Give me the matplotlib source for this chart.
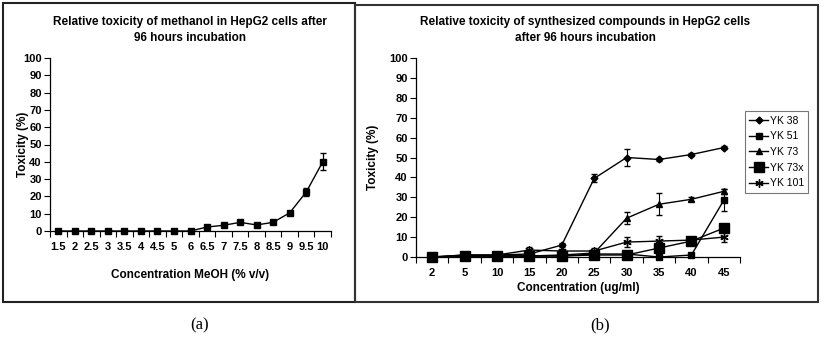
import matplotlib.pyplot as plt
from matplotlib.patches import Rectangle
from matplotlib.lines import Line2D

plt.rcParams['font.family'] = ['Liberation Sans Narrow', 'Liberation Sans', 'DejaVu Sans']

# panel (a): methanol
meoh_conc = ["1.5", "2", "2.5", "3", "3.5", "4", "4.5", "5", "6", "6.5",
             "7", "7.5", "8", "8.5", "9", "9.5", "10"]
meoh_tox = [0, 0, 0, 0, 0, 0, 0, 0, 0, 2.3, 3.3, 5, 3.5, 5, 10.5, 22.5, 40]
meoh_err = [0, 0, 0, 0, 0, 0, 0, 0, 0, 0.8, 1.2, 1.2, 1, 1, 1.2, 2.5, 5]

# panel (b): synthesized compounds
conc = ["2", "5", "10", "15", "20", "25", "30", "35", "40", "45"]
yk38 = [0, 1, 1, 1.5, 6, 39.5, 50, 49, 51.5, 55]
yk38_err = [0, 0.5, 0.5, 0.5, 0.8, 2, 4.5, 0.8, 0.8, 0.8]
yk51 = [0, 0.5, 0.5, 0.5, 0.5, 1.5, 1.5, 0, 1, 28.5]
yk51_err = [0, 0.3, 0.3, 0.3, 0.3, 0.5, 0.5, 0, 0.3, 5.5]
yk73 = [0, 0.5, 0.5, 0.5, 1, 2, 19.5, 26.5, 29, 33]
yk73_err = [0, 0.3, 0.3, 0.3, 0.3, 1, 3, 5.5, 1, 1.2]
yk73x = [0, 0.5, 0.5, 0.5, 0.5, 1, 1, 4.5, 8, 14.5]
yk73x_err = [0, 0.3, 0.3, 0.3, 0.3, 0.3, 0.3, 0.8, 1, 1]
yk101 = [0, 1, 1, 3.5, 3, 3, 7.5, 8, 8.5, 10]
yk101_err = [0, 0.5, 0.5, 1.5, 1, 1.5, 2.5, 2.5, 1, 2.5]

W, H = 825, 343
fig = plt.figure(figsize=(W / 100, H / 100), dpi=100)


def px_axes(x0, y0, x1, y1):
    return fig.add_axes([x0 / W, 1 - y1 / H, (x1 - x0) / W, (y1 - y0) / H])


def style_axes(ax, labels, ylabel_x):
    n = len(labels)
    ax.set_xlim(-0.5, n - 0.5)
    ax.set_ylim(0, 100)
    ax.set_yticks(range(0, 101, 10))
    ax.set_xticks(range(n))
    ax.set_xticklabels(labels)
    ax.set_xticks([k - 0.5 for k in range(n + 1)], minor=True)
    ax.tick_params(axis='x', which='major', length=0, pad=8, labelsize=8)
    ax.tick_params(axis='x', which='minor', length=4, direction='out', width=0.8)
    ax.tick_params(axis='y', length=4, direction='out', width=0.8, labelsize=8, pad=2)
    for lab in ax.get_xticklabels() + ax.get_yticklabels():
        lab.set_fontweight('bold')
    for s in ['top', 'right']:
        ax.spines[s].set_visible(False)
    for s in ['left', 'bottom']:
        ax.spines[s].set_linewidth(0.9)
    ax.set_ylabel("Toxicity (%)", fontsize=8.5, fontweight='bold')
    ax.yaxis.set_label_coords(ylabel_x, 0.5)


# outer frames
fig.patches.append(Rectangle((3 / W, 1 - 302 / H), 352 / W, 299 / H,
                             transform=fig.transFigure, fill=False, lw=1.5, ec='#222222'))
fig.patches.append(Rectangle((355 / W, 1 - 302 / H), 463 / W, 297 / H,
                             transform=fig.transFigure, fill=False, lw=1.5, ec='#333333'))

# panel (a)
ax1 = px_axes(50, 58, 331, 231)
style_axes(ax1, meoh_conc, -0.075)
x1 = range(len(meoh_conc))
ax1.errorbar(x1, meoh_tox, yerr=meoh_err, color='black', lw=1, marker='s', ms=5,
             capsize=2.5, elinewidth=0.9, clip_on=False)
ax1.set_xlabel("Concentration MeOH (% v/v)", fontsize=8.5, fontweight='bold', labelpad=12)
fig.text(190 / W, 1 - 22 / H, "Relative toxicity of methanol in HepG2 cells after",
         ha='center', va='center', fontsize=8.5, fontweight='bold')
fig.text(190 / W, 1 - 38 / H, "96 hours incubation",
         ha='center', va='center', fontsize=8.5, fontweight='bold')

# panel (b)
ax2 = px_axes(416, 58, 740, 257)
style_axes(ax2, conc, -0.115)
x2 = range(len(conc))
series = [
    ("YK 38", yk38, yk38_err, 'D', 3.5),
    ("YK 51", yk51, yk51_err, 's', 4),
    ("YK 73", yk73, yk73_err, '^', 5),
    ("YK 73x", yk73x, yk73x_err, 's', 7.5),
    ("YK 101", yk101, yk101_err, (6, 2, 0), 6),
]
handles = []
for name, vals, err, mk, ms in series:
    ax2.errorbar(x2, vals, yerr=err, color='black', lw=1, marker=mk, ms=ms,
                 capsize=2.5, elinewidth=0.8, clip_on=False)
    handles.append(Line2D([], [], color='black', lw=1, marker=mk, ms=ms, label=name))
ax2.set_xlabel("Concentration (ug/ml)", fontsize=8.5, fontweight='bold', labelpad=3)
fig.text(585 / W, 1 - 22 / H, "Relative toxicity of synthesized compounds in HepG2 cells",
         ha='center', va='center', fontsize=8.5, fontweight='bold')
fig.text(585 / W, 1 - 38 / H, "after 96 hours incubation",
         ha='center', va='center', fontsize=8.5, fontweight='bold')

leg = fig.legend(handles=handles, loc='center left',
                 bbox_to_anchor=(745 / W, 1 - 152 / H), fontsize=7.5, frameon=True,
                 fancybox=False, edgecolor='#555555', handlelength=1.8,
                 borderpad=0.4, labelspacing=0.55, handletextpad=0.2, borderaxespad=0)
leg.get_frame().set_linewidth(0.8)

# panel labels
fig.text(200 / W, 1 - 325 / H, "(a)", ha='center', va='center', fontsize=12,
         family=['Liberation Serif', 'DejaVu Serif'])
fig.text(600 / W, 1 - 325 / H, "(b)", ha='center', va='center', fontsize=12,
         family=['Liberation Serif', 'DejaVu Serif'])

fig.savefig("out.png", dpi=100)
